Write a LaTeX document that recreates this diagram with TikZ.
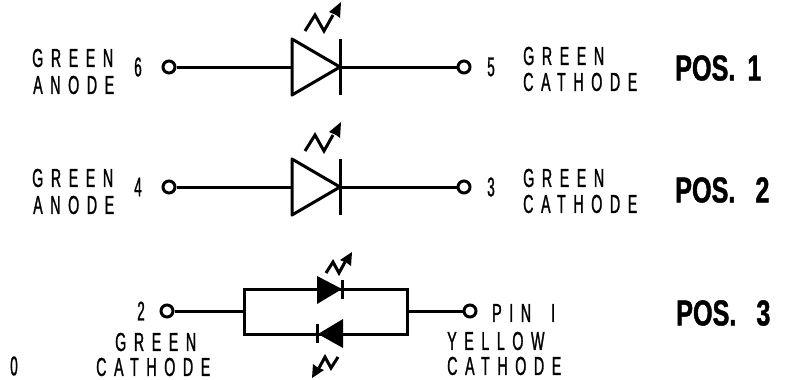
\documentclass[tikz,border=0pt]{standalone}
\usepackage{fontspec}
\usepackage{tikz}
\usetikzlibrary{calc,arrows,positioning}
\newfontfamily\cadfont[FakeStretch=0.55,LetterSpace=29,FakeBold=1]{Liberation Sans}
\newfontfamily\digitfont[FakeStretch=0.5,FakeBold=1]{Liberation Sans}
\newfontfamily\posfont[FakeStretch=0.70,FakeBold=1.2]{Liberation Sans Bold}
\tikzset{
  wire/.style = {line width=3pt},
  pin/.style = {circle,draw,line width=3pt,fill=white,inner sep=0pt,minimum size=12pt},
  cad/.style = {font=\cadfont\fontsize{26}{26}\selectfont,inner sep=0pt,anchor=west},
  posn/.style = {font=\posfont\fontsize{36}{36}\selectfont,inner sep=0pt,anchor=west},
  num/.style = {font=\digitfont\fontsize{27}{27}\selectfont,inner sep=0pt},
}
\begin{document}
\begin{tikzpicture}[x=1pt,y=-1pt]
\useasboundingbox (0,0) rectangle (785,380);
\foreach \row/\a/\c/\p/\dy/\gap in {0/6/5/1/0/12, 120/4/3/2/2/20}{
\begin{scope}[shift={(0,\row)}]
\node[pin] (left\p) at (169,67) {};
\node[pin] (right\p) at (464,67) {};
\coordinate (ledA\p) at (292,67);
\coordinate (ledK\p) at (340,67);
\draw[wire] (left\p) -- (ledA\p);
\draw[wire] (ledK\p) -- (right\p);
\draw[wire,line join=round] (292,39) -- (292,95) -- (ledK\p) -- cycle;
\draw[wire] (340,39) -- (340,95);
\draw[wire] (305,31) -- (315,15) -- (324,31) -- (333,15);
\fill (341,2) -- (340,18) -- (336,15) -- (329,12) -- cycle;
\node[cad] (ga\p) at (32,58) {GREEN};
\node[cad] (an\p) at (33,85) {ANODE};
\node[num] (na\p) at (138,67) {\a};
\node[num] (nc\p) at (491,67) {\c};
\node[cad] (gc\p) at (523,{56+\dy}) {GREEN};
\node[cad] (ca\p) at (523,{82+\dy}) {CATHODE};
\node[posn] (pos\p) at (675,{68+\dy}) {POS.\hspace{\gap pt}\p};
\end{scope}
}
% parallel pair
\node[pin] (left3) at (167,311) {};
\node[pin] (right3) at (470,311) {};
\coordinate (boxL) at (244,311);
\coordinate (boxR) at (407,311);
\draw[wire] (left3) -- (boxL);
\draw[wire] (boxR) -- (right3);
\draw[wire] (244,289) rectangle (407,334);
\fill (317,276) -- (317,304) -- (342,289) -- cycle;
\fill (343,319) -- (343,348) -- (318,334) -- cycle;
\draw[wire] (342,280) -- (342,299);
\draw[wire] (317,324) -- (317,343);
\draw[wire] (326,273) -- (333,262) -- (339,273) -- (345,262);
\fill (352,252) -- (351,266) -- (347,263) -- (340,260) -- cycle;
\draw[wire] (338,357) -- (331,368) -- (325,357) -- (319,368);
\fill (312,378) -- (313,364) -- (317,367) -- (324,370) -- cycle;
\node[num] (n2) at (141,311) {2};
\node[cad] (pin1) at (492,313) {PIN\hspace{20pt}I};
\node[cad] (g3) at (115,342) {GREEN};
\node[cad] (c3) at (96,367) {CATHODE};
\node[cad] (y3) at (447,341) {YELLOW};
\node[cad] (c4) at (447,366) {CATHODE};
\node[posn] (pos3) at (676,313) {POS.\hspace{20pt}3};
\node[num] (zero) at (14,366) {0};
\end{tikzpicture}
\end{document}
